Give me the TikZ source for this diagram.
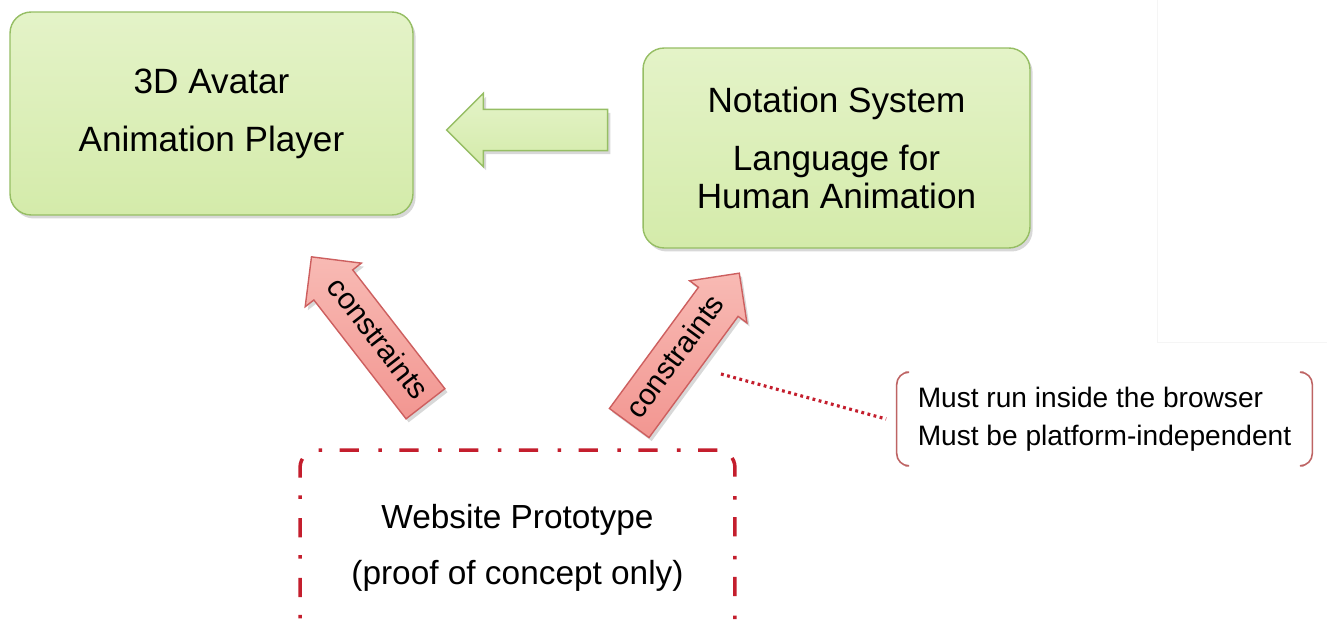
\documentclass[tikz,border=0pt]{standalone}
\usepackage{fontspec}
\setmainfont{Liberation Sans}
\usetikzlibrary{shapes.arrows, shadows, positioning, calc}

\definecolor{boxgreen}{RGB}{212,235,170}
\definecolor{boxgreentop}{RGB}{228,243,200}
\definecolor{greenline}{RGB}{150,190,100}
\definecolor{arrowred}{RGB}{242,150,145}
\definecolor{arrowredtop}{RGB}{248,186,180}
\definecolor{redline}{RGB}{205,95,95}
\definecolor{protored}{RGB}{196,30,45}
\definecolor{bracketred}{RGB}{190,100,100}

\begin{document}
\begin{tikzpicture}[x=0.02cm, y=-0.02cm,
    greenbox/.style={rectangle, rounded corners=12pt, draw=greenline, line width=0.8pt,
        top color=boxgreentop, bottom color=boxgreen, align=center,
        drop shadow={opacity=0.3, shadow xshift=1.5pt, shadow yshift=-2pt},
        font=\fontsize{20}{22}\selectfont},
    greenarrow/.style={single arrow, shape border rotate=180, draw=greenline, line width=0.8pt,
        top color=boxgreentop, bottom color=boxgreen, inner xsep=0pt, inner ysep=0.4cm,
        minimum height=3.22cm, single arrow head extend=0.32cm,
        drop shadow={opacity=0.3, shadow xshift=1.5pt, shadow yshift=-2pt}},
    redarrow/.style={single arrow, draw=redline, line width=0.8pt,
        top color=arrowredtop, bottom color=arrowred, inner xsep=0pt,
        text height=12pt, text depth=3.5pt, inner ysep=0.205cm,
        minimum height=3.72cm, single arrow head extend=0.22cm,
        drop shadow={opacity=0.3, shadow xshift=1.5pt, shadow yshift=-2pt},
        font=\fontsize{17}{17}\selectfont},
    protobox/.style={rectangle, rounded corners=10pt, draw=protored, line width=2pt,
        dash pattern=on 11pt off 10pt on 2pt off 11pt, align=center,
        minimum width=8.7cm, minimum height=3.92cm,
        font=\fontsize{19}{21}\selectfont},
    notebox/.style={rectangle, align=left, minimum width=8.3cm, minimum height=1.86cm,
        font=\fontsize{16}{21.5}\selectfont},
    bracket/.style={draw=bracketred, line width=0.9pt, rounded corners=7pt},
    dotline/.style={draw=protored, line width=1.8pt, dash pattern=on 1.6pt off 2pt}
]
\useasboundingbox (0,0) rectangle (1327,628);
\clip (0,0) rectangle (1327,628);
\fill[white] (0,0) rectangle (1327,628);
% faint frame in the corner
\draw[black!4, line width=0.5pt] (1157,0) -- (1157,342) -- (1327,342);

% the two green blocks
\node[greenbox, minimum width=8.06cm, minimum height=4.06cm] (player) at (211.5,113.5)
    {3D Avatar\\[11pt]Animation Player};
\node[greenbox, minimum width=7.74cm, minimum height=4.0cm] (notation) at (836.5,148)
    {Notation System\\[11pt]Language for\\Human Animation};
\node[greenarrow] (flow) at (537.5,130) {};

% prototype and constraints
\node[protobox] (proto) at (517.5,548) {Website Prototype\\[11pt](proof of concept only)};
\node[redarrow, shape border rotate=180, rotate=-52.2] (leftcon) at (376,340) {constraints};
\node[redarrow, rotate=53.7] (rightcon) at (677,358) {constraints};

% note
\node[notebox] (note) at (1104.5,419) {Must run inside the browser\\Must be platform-independent};
\draw[bracket] ([xshift=5pt]note.north west) -- (note.north west) -- (note.south west) -- ([xshift=5pt]note.south west);
\draw[bracket] ([xshift=-5pt]note.north east) -- (note.north east) -- (note.south east) -- ([xshift=-5pt]note.south east);
\coordinate (dotstart) at (721,374);
\draw[dotline] (dotstart) -- ([xshift=-6pt]note.west);
\end{tikzpicture}
\end{document}
